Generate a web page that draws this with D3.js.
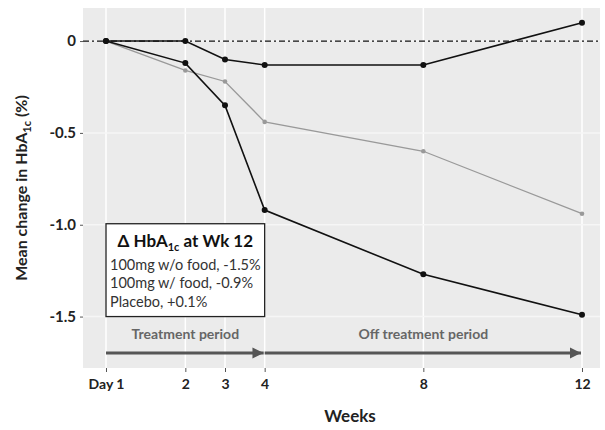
<!DOCTYPE html>
<html><head><meta charset="utf-8">
<script src="https://cdn.jsdelivr.net/npm/d3@7"></script>
<style>body{margin:0;background:#fff}svg{display:block}text{font-family:Lato,"Open Sans",sans-serif}</style>
</head><body><svg id="c" width="605" height="430"></svg>
<script>
const weeks = [0, 2, 3, 4, 8, 12];
const tickLabels = ["Day 1", "2", "3", "4", "8", "12"];
const yTicks = [0, -0.5, -1.0, -1.5];
const yTickLabels = ["0", "-0.5", "-1.0", "-1.5"];
const placebo = [0, 0, -0.10, -0.13, -0.13, 0.10];
const withFood = [0, -0.16, -0.22, -0.44, -0.60, -0.94];
const withoutFood = [0, -0.12, -0.35, -0.92, -1.27, -1.49];
const boxLines = ["100mg w/o food, -1.5%", "100mg w/ food, -0.9%", "Placebo, +0.1%"];

const svg = d3.select("#c");
const panel = {l: 83, r: 600, t: 8, b: 368};
const x = d3.scaleLinear().domain([0, 12]).range([106, 582]);
const y = d3.scaleLinear().domain([0.18, -1.78]).range([panel.t, panel.b]);

svg.append("rect").attr("x", panel.l).attr("y", panel.t).attr("width", panel.r - panel.l)
  .attr("height", panel.b - panel.t).attr("fill", "#ebebeb");

// grid
svg.append("g").selectAll("line").data(weeks).join("line")
  .attr("x1", d => x(d)).attr("x2", d => x(d)).attr("y1", panel.t).attr("y2", panel.b)
  .attr("stroke", "#fff").attr("stroke-width", 1.5);
svg.append("g").selectAll("line").data(yTicks).join("line")
  .attr("x1", panel.l).attr("x2", panel.r).attr("y1", d => y(d)).attr("y2", d => y(d))
  .attr("stroke", "#f6f6f6").attr("stroke-width", 1.5);

// axes
const xAxis = d3.axisBottom(x).tickValues(weeks).tickFormat((d, i) => tickLabels[i]).tickSize(4).tickPadding(7);
const gx = svg.append("g").attr("transform", `translate(0,${panel.b})`).call(xAxis);
gx.select(".domain").remove();
gx.selectAll("line").attr("stroke", "#555");
gx.selectAll("text").attr("font-size", 14).attr("font-weight", "bold").attr("fill", "#222");

const yAxis = d3.axisLeft(y).tickValues(yTicks).tickFormat((d, i) => yTickLabels[i]).tickSize(3).tickPadding(4);
const gy = svg.append("g").attr("transform", `translate(${panel.l},0)`).call(yAxis);
gy.select(".domain").remove();
gy.selectAll("line").attr("stroke", "#555");
gy.selectAll("text").attr("font-size", 15).attr("font-weight", "bold").attr("fill", "#222");

// zero reference
svg.append("line").attr("x1", panel.l).attr("x2", panel.r).attr("y1", y(0)).attr("y2", y(0))
  .attr("stroke", "#111").attr("stroke-width", 1.3).attr("stroke-dasharray", "6,3,2,3");

// series
const line = d3.line().x((d, i) => x(weeks[i])).y(d => y(d));
const series = [
  {v: withFood, c: "#999", w: 1.3, r: 2.3},
  {v: placebo, c: "#111", w: 1.6, r: 3},
  {v: withoutFood, c: "#111", w: 1.6, r: 3}
];
series.forEach(s => {
  svg.append("path").datum(s.v).attr("d", line).attr("fill", "none").attr("stroke", s.c).attr("stroke-width", s.w);
  svg.append("g").selectAll("circle").data(s.v).join("circle")
    .attr("cx", (d, i) => x(weeks[i])).attr("cy", d => y(d)).attr("r", s.r).attr("fill", s.c);
});

// annotation box
const bx = x(0), bx2 = x(4), by = y(-1.0) - 1, by2 = y(-1.5);
svg.append("rect").attr("x", bx).attr("y", by).attr("width", bx2 - bx).attr("height", by2 - by)
  .attr("fill", "#fff").attr("stroke", "#222").attr("stroke-width", 1.3);
const title = svg.append("text").attr("x", (bx + bx2) / 2).attr("y", by + 23).attr("text-anchor", "middle")
  .attr("font-size", 17).attr("font-weight", "bold").attr("fill", "#111");
title.append("tspan").text("Δ HbA");
title.append("tspan").text("1c").attr("font-size", 11).attr("dy", 4);
title.append("tspan").text(" at Wk 12").attr("dy", -4);
svg.append("g").selectAll("text").data(boxLines).join("text")
  .attr("x", bx + 4).attr("y", (d, i) => by + 46 + i * 18.5)
  .attr("font-size", 14.5).attr("fill", "#333").text(d => d);

// periods
svg.append("defs").append("marker").attr("id", "ah").attr("viewBox", "0 0 10 10").attr("refX", 10).attr("refY", 5)
  .attr("markerWidth", 4).attr("markerHeight", 4).attr("orient", "auto")
  .append("path").attr("d", "M0,0L10,5L0,10z").attr("fill", "#555");
const ay = 353;
[[0, 4, "Treatment period"], [4, 12, "Off treatment period"]].forEach(([a, b, t]) => {
  svg.append("line").attr("x1", x(a)).attr("x2", x(b) - 1).attr("y1", ay).attr("y2", ay)
    .attr("stroke", "#555").attr("stroke-width", 2.8).attr("marker-end", "url(#ah)");
  svg.append("text").attr("x", (x(a) + x(b)) / 2).attr("y", 339).attr("text-anchor", "middle")
    .attr("font-size", 14).attr("font-weight", "bold").attr("fill", "#666").text(t);
});

// titles
svg.append("text").attr("x", 350).attr("y", 422).attr("text-anchor", "middle")
  .attr("font-size", 17).attr("font-weight", "bold").attr("fill", "#222").text("Weeks");
const yt = svg.append("text").attr("transform", "translate(27,188) rotate(-90)").attr("text-anchor", "middle")
  .attr("font-size", 16).attr("font-weight", "bold").attr("fill", "#222");
yt.append("tspan").text("Mean change in HbA");
yt.append("tspan").text("1c").attr("font-size", 11).attr("dy", 4);
yt.append("tspan").text(" (%)").attr("dy", -4);
</script></body></html>
